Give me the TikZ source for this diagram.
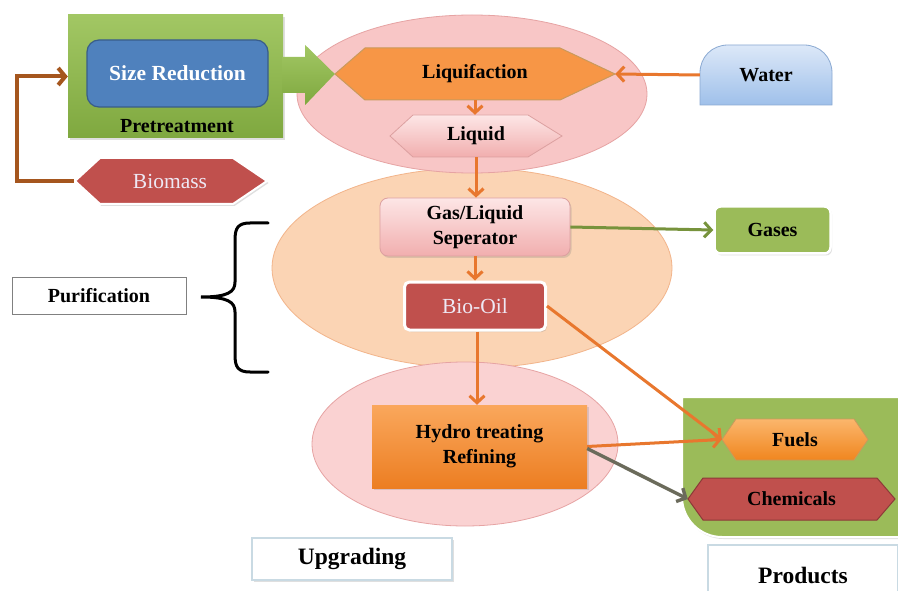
\documentclass[tikz,border=0pt]{standalone}
\usepackage{fontspec}
\setmainfont{Liberation Serif}
\usetikzlibrary{shapes.geometric,arrows.meta,shadows,calc}
\definecolor{peach}{HTML}{FBD4B4}
\definecolor{peachD}{HTML}{F2B48A}
\definecolor{pinkE}{HTML}{F8C6C6}
\definecolor{pinkE3}{HTML}{FAD2D2}
\definecolor{pinkD}{HTML}{E6A3A3}
\definecolor{preTop}{HTML}{A2C764}
\definecolor{preBot}{HTML}{7FA83F}
\definecolor{blueSR}{HTML}{4F81BD}
\definecolor{blueD}{HTML}{385D8A}
\definecolor{orL}{HTML}{F79646}
\definecolor{orD}{HTML}{C99A5C}
\definecolor{pkTop}{HTML}{FDE6E6}
\definecolor{pkBot}{HTML}{F1AEAE}
\definecolor{pkD}{HTML}{DCA0A0}
\definecolor{redB}{HTML}{C0504D}
\definecolor{redD}{HTML}{8C3A38}
\definecolor{wTop}{HTML}{DCE8F8}
\definecolor{wBot}{HTML}{9FC0EA}
\definecolor{wD}{HTML}{8AA9D2}
\definecolor{grnB}{HTML}{9BBB59}
\definecolor{arrOr}{HTML}{E8772E}
\definecolor{arrGr}{HTML}{77933C}
\definecolor{arrGy}{HTML}{6B6B5B}
\definecolor{brownA}{HTML}{A5561E}
\definecolor{hyTop}{HTML}{FAA75C}
\definecolor{hyBot}{HTML}{EC7E22}
\definecolor{fuTop}{HTML}{FBB66C}
\definecolor{fuBot}{HTML}{F0861F}
\definecolor{lavW}{HTML}{EEE8F4}
\definecolor{boxB}{HTML}{C9DAE3}
\newcommand\lblfont{\fontsize{20}{25.5}\selectfont\bfseries}
\newcommand\bigfont{\fontsize{23.5}{28}\selectfont\bfseries}
\newcommand\regfont{\fontsize{21.5}{25}\selectfont}
\newcommand\hexa[7]{%
  \path[#1] (#2,{(#3+#5)/2}) -- ({#2+#6},#3) -- ({#4-#7},#3) -- (#4,{(#3+#5)/2}) -- ({#4-#7},#5) -- ({#2+#6},#5) -- cycle;}
\begin{document}
\begin{tikzpicture}[x=1pt,y=-1pt,
  lbl/.style={font=\lblfont, text=black, align=center, inner sep=0pt},
  oarr/.style={draw=arrOr, line width=3pt, -{Straight Barb[length=7pt,width=15pt]}},
  garr/.style={draw=arrGr, line width=3pt, -{Straight Barb[length=7pt,width=15pt]}},
  yarr/.style={draw=arrGy, line width=3.4pt, -{Straight Barb[length=7pt,width=15pt]}},
  soft/.style={drop shadow={opacity=0.25, shadow xshift=1.5pt, shadow yshift=-2pt}},
]
\clip (0,0) rectangle (898,591);
\fill[white] (0,0) rectangle (898,591);

% stage ellipses
\node[ellipse, draw=peachD, fill=peach, line width=0.8pt, minimum width=400, minimum height=200] (e2) at (472,268) {};
\node[ellipse, draw=pinkD, fill=pinkE, line width=0.8pt, minimum width=350, minimum height=158] (e1) at (472,94) {};
\node[ellipse, draw=pinkD, fill=pinkE3, line width=0.8pt, minimum width=306, minimum height=164] (e3) at (465,444) {};

% pretreatment
\node[top color=preTop, bottom color=preBot, minimum width=215, minimum height=123, inner sep=0pt, soft] (pre) at (175.5,76.5) {};
\node[rounded corners=12, fill=blueSR, draw=blueD, line width=1.2pt, minimum width=181, minimum height=67, inner sep=0pt,
      font=\fontsize{21.5}{25}\selectfont\bfseries, text=white] (sr) at (177.5,73.5) {Size Reduction};
\node[lbl] (pret) at (177,126) {Pretreatment};

% liquifaction
\hexa{fill=orL, draw=orD, line width=1pt}{335}{48}{615}{100}{30}{55}
\node[lbl, minimum width=280, minimum height=52] (liq) at (475,74) {Liquifaction};

% big green block arrow
\path[top color=preTop, bottom color=preBot]
  ($(pre.east)+(-1,-19.5)$) -- ($(pre.east)+(22,-19.5)$) -- ($(pre.east)+(22,-31.5)$) -- (liq.west)
  -- ($(pre.east)+(22,28.5)$) -- ($(pre.east)+(22,16.5)$) -- ($(pre.east)+(-1,16.5)$) -- cycle;

% liquid
\hexa{top color=pkTop, bottom color=pkBot, draw=pkD, line width=0.8pt}{390}{115}{562}{157}{23}{34}
\node[lbl, minimum width=172, minimum height=42] (liqd) at (476,136) {Liquid};

% water
\path[top color=wTop, bottom color=wBot, draw=wD, line width=0.8pt]
  (700,105) -- (700,73) .. controls (700,57) and (712,45) .. (728,45) -- (804,45)
  .. controls (820,45) and (832,57) .. (832,73) -- (832,105) -- cycle;
\node[lbl, minimum width=132, minimum height=60] (water) at (766,75) {\raisebox{-5pt}{Water}};

% biomass
\hexa{fill=redB, draw=white, line width=2pt, soft}{75}{158}{267}{204}{25}{34}
\node[font=\regfont, text=lavW, inner sep=0pt, minimum width=192, minimum height=46] (bio) at (170,181) {Biomass};

% gas/liquid separator
\node[rounded corners=8, top color=pkTop, bottom color=pkBot, draw=pkD, line width=0.8pt, soft,
      minimum width=190, minimum height=58, lbl] (gl) at (475,227) {Gas/Liquid\\Seperator};

% bio-oil
\node[rounded corners=5, fill=redB, draw=white, line width=3pt, soft, inner sep=0pt,
      minimum width=141, minimum height=48, font=\regfont, text=lavW] (bo) at (475,306) {Bio-Oil};

% gases
\node[rounded corners=6, fill=grnB, draw=white, line width=2.5pt, soft,
      minimum width=116, minimum height=47, lbl] (gas) at (772.5,230) {Gases};

% purification + brace
\node[fill=white, draw=gray, line width=0.8pt, minimum width=174, minimum height=37, lbl] (pur) at (99,295.5) {Purification};
\draw[line width=3pt, line cap=round] (268,223) -- (250,223) .. controls (238,223) and (235,228) .. (235,240)
  -- (235,282) .. controls (235,292) and (228,297) .. (201,297)
  .. controls (228,297) and (235,302) .. (235,312) -- (235,355)
  .. controls (235,367) and (238,372) .. (250,372) -- (268,372);

% hydro treating
\node[top color=hyTop, bottom color=hyBot, minimum width=215, minimum height=83, soft, lbl] (hy) at (479.5,446.5) {Hydro treating\\Refining};

% products area
\path[fill=grnB, draw=white, line width=2pt, soft]
  (682,397) -- (682,497) .. controls (682,519) and (700,537) .. (722,537) -- (905,537) -- (905,397) -- cycle;
\hexa{top color=fuTop, bottom color=fuBot, draw=orD, line width=0.8pt}{722}{419}{868}{460}{14}{14}
\node[lbl, minimum width=146, minimum height=41] (fuel) at (795,439.5) {Fuels};
\hexa{fill=redB, draw=redD, line width=1pt}{688}{478}{895}{520}{15}{18}
\node[lbl, minimum width=207, minimum height=42] (chem) at (791.5,499) {Chemicals};

% stage labels
\node[fill=white, draw=boxB, line width=1.2pt, soft, minimum width=200, minimum height=42, inner sep=0pt, font=\bigfont] (upg) at (352,559) {Upgrading};
\node[fill=white, draw=boxB, line width=1.2pt, minimum width=190, minimum height=60, inner sep=0pt, font=\bigfont] (prod) at (803,575) {Products};

% connectors
\draw[brownA, line width=4pt, -{Straight Barb[length=7pt,width=17pt]}] (bio.west) -- (17,181) |- (pre.west);
\draw[oarr] (water.west) -- (liq.east);
\draw[oarr] (liq.south) -- (liq.south |- liqd.north);
\draw[oarr] (liqd.south) -- (liqd.south |- gl.north);
\draw[oarr] (gl.south) -- (bo.north);
\draw[garr] (gl.east) -- (gas.west);
\draw[oarr] ([xshift=2pt]bo.south) -- ([xshift=2pt]bo.south |- hy.north);
\draw[oarr] (bo.east) -- (fuel.west);
\draw[oarr] (hy.east) -- (fuel.west);
\draw[yarr] ([yshift=-2pt]hy.east) -- (chem.west);
\end{tikzpicture}
\end{document}
